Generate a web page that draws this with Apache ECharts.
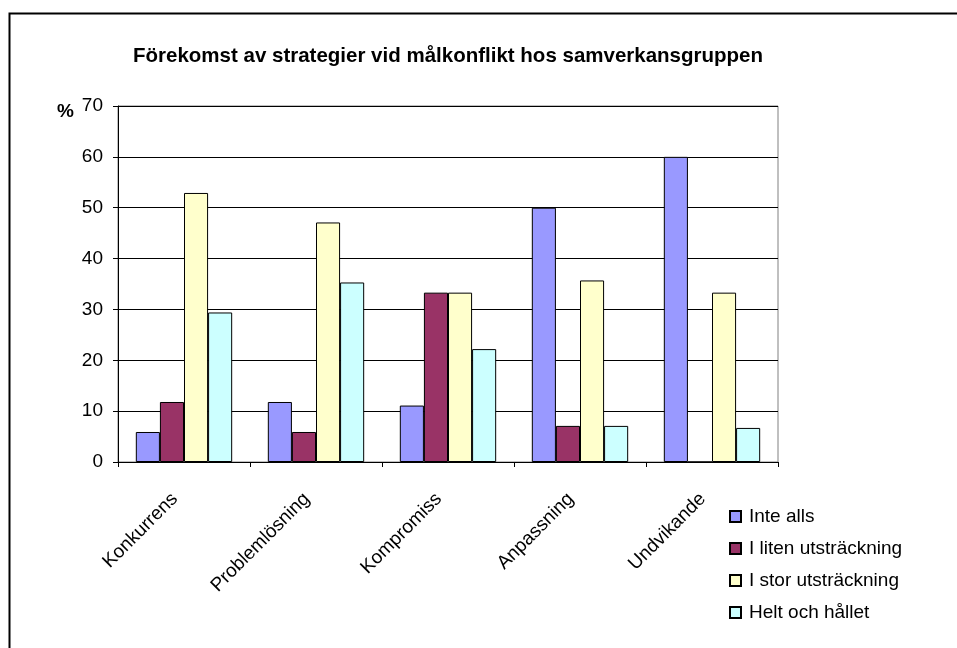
<!DOCTYPE html>
<html>
<head>
<meta charset="utf-8">
<script src="https://cdn.jsdelivr.net/npm/echarts@6/dist/echarts.min.js"></script>
<style>
  html, body { margin: 0; padding: 0; background: #fff; }
  #chart { width: 957px; height: 648px; }
</style>
</head>
<body>
<div id="chart"></div>
<script>
const CATEGORIES = ["Konkurrens", "Problemlösning", "Kompromiss", "Anpassning", "Undvikande"];
const SERIES_NAMES = ["Inte alls", "I liten utsträckning", "I stor utsträckning", "Helt och hållet"];
const INTE_ALLS = [5.9, 11.8, 11.1, 50.0, 60.0];
const I_LITEN = [11.8, 5.9, 33.3, 7.1, 0];
const I_STOR = [52.9, 47.1, 33.3, 35.7, 33.3];
const HELT = [29.4, 35.3, 22.2, 7.1, 6.7];
const COLORS = ["#9999FF", "#993366", "#FFFFCC", "#CCFFFF"];
const FONT = "'Liberation Sans', Arial, sans-serif";

const chart = echarts.init(document.getElementById("chart"));

const values = [INTE_ALLS, I_LITEN, I_STOR, HELT];

chart.setOption({
  animation: false,
  textStyle: { fontFamily: FONT },
  title: [
    {
      text: "Förekomst av strategier vid målkonflikt hos samverkansgruppen",
      left: 128,
      top: 41,
      textStyle: { fontFamily: FONT, fontSize: 20.5, fontWeight: "bold", color: "#000" },
    },
    {
      text: "%",
      left: 52,
      top: 97,
      textStyle: { fontFamily: FONT, fontSize: 19, fontWeight: "bold", color: "#000" },
    },
  ],
  graphic: [
    {
      type: "polyline",
      shape: { points: [[9.5, 648], [9.5, 13.5], [957, 13.5]] },
      style: { stroke: "#000", lineWidth: 2, fill: null },
    },
  ],
  legend: {
    orient: "vertical",
    left: 729,
    top: 507,
    padding: 0,
    itemWidth: 11,
    itemHeight: 11,
    itemGap: 13,
    icon: "rect",
    textStyle: { fontFamily: FONT, fontSize: 19, color: "#000", lineHeight: 19, padding: [0, 0, 0, 3] },
    data: SERIES_NAMES,
  },
  grid: {
    left: 118,
    right: 179,
    top: 106,
    bottom: 186,
    show: true,
    borderColor: "#808080",
    borderWidth: 1,
  },
  xAxis: {
    type: "category",
    data: CATEGORIES,
    axisLine: { lineStyle: { color: "#000" } },
    axisTick: { show: true, length: 5, lineStyle: { color: "#000" } },
    axisLabel: { rotate: 45, fontSize: 19, color: "#000", margin: 25, interval: 0, padding: [0, 13, 0, 0] },
  },
  yAxis: {
    type: "value",
    min: 0,
    max: 70,
    interval: 10,
    axisLine: { show: true, lineStyle: { color: "#000" } },
    axisTick: { show: true, length: 5, lineStyle: { color: "#000" } },
    axisLabel: { fontSize: 19, color: "#000", margin: 15 },
    splitLine: { lineStyle: { color: "#000" } },
  },
  series: SERIES_NAMES.map((name, i) => ({
    name,
    type: "bar",
    data: values[i],
    barGap: 0,
    barCategoryGap: "27%",
    itemStyle: { color: COLORS[i], borderColor: "#000", borderWidth: 1 },
  })),
});
</script>
</body>
</html>
